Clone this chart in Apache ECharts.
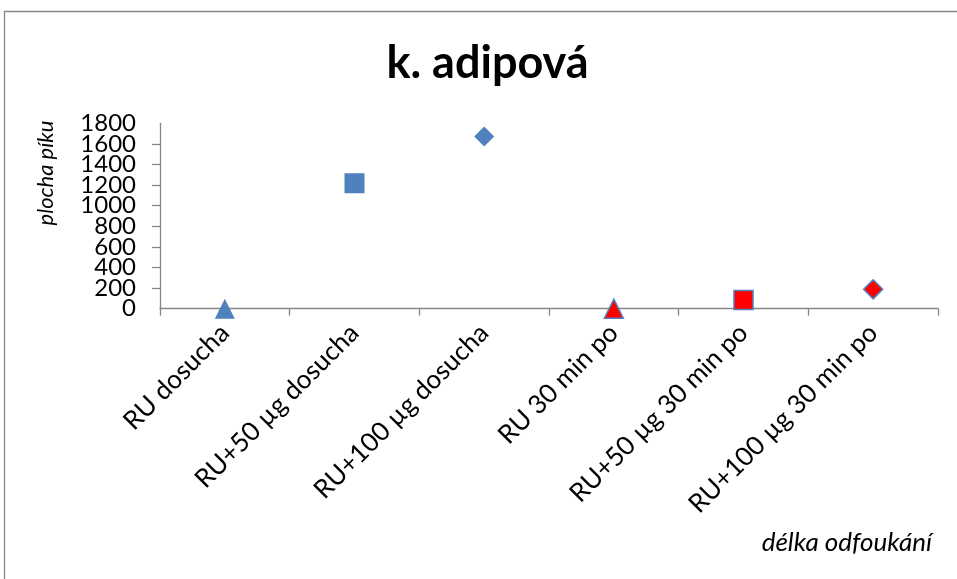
<!DOCTYPE html>
<html>
<head>
<meta charset="utf-8">
<script src="https://cdn.jsdelivr.net/npm/echarts@6/dist/echarts.min.js"></script>
<style>
  html, body { margin: 0; padding: 0; background: #ffffff; }
  #chart { width: 957px; height: 579px; }
</style>
</head>
<body>
<div id="chart"></div>
<script>
// Categories along the x axis
const categories = [
  'RU dosucha',
  'RU+50 µg dosucha',
  'RU+100 µg dosucha',
  'RU 30 min po',
  'RU+50 µg 30 min po',
  'RU+100 µg 30 min po'
];
// Peak areas measured right after drying and 30 minutes later
const dosuchaValues = [0, 1218, 1671, null, null, null];
const poValues = [null, null, null, 0, 85, 188];
// Marker shape for each category
const markerShapes = ['triangle', 'rect', 'diamond', 'triangle', 'rect', 'diamond'];
// Y axis range
const yMin = 0, yMax = 1800, yStep = 200;

const FONT = 'Lato, "Open Sans", sans-serif';
const BLUE = '#4F81BD';
const RED = '#FF0000';
const AXIS = '#868686';

function pointsOf(values, color, border) {
  return values.map((v, i) => v === null ? null : {
    value: [categories[i], v],
    symbol: markerShapes[i],
    itemStyle: border
      ? { color: color, opacity: 1, borderColor: BLUE, borderWidth: 1.5 }
      : { color: color, opacity: 1 }
  }).filter(p => p !== null);
}

const yLabelStyle = { color: '#000', fontFamily: FONT, fontSize: 24, margin: 24, hideOverlap: false };

const chart = echarts.init(document.getElementById('chart'), null, { renderer: 'canvas' });
chart.setOption({
  backgroundColor: '#ffffff',
  animation: false,
  grid: { left: 160, right: 19, top: 123.3, bottom: 270.3, containLabel: false },
  xAxis: {
    type: 'category',
    data: categories,
    boundaryGap: true,
    axisLine: { lineStyle: { color: AXIS, width: 1.3 } },
    axisTick: { show: true, length: 7, lineStyle: { color: AXIS, width: 1.3 } },
    axisLabel: { rotate: 45, margin: 20, color: '#000', fontFamily: FONT, fontSize: 26, interval: 0 },
    splitLine: { show: false }
  },
  yAxis: [
    {
      // main value axis: line, ticks and the inner labels
      type: 'value', position: 'left',
      min: yMin, max: yMax, interval: yStep,
      axisLine: { show: true, lineStyle: { color: AXIS, width: 1.3 } },
      axisTick: { show: true, length: 8, lineStyle: { color: AXIS, width: 1.3 } },
      axisLabel: Object.assign({ showMinLabel: false, showMaxLabel: false, formatter: v => String(v) }, yLabelStyle),
      splitLine: { show: false }
    },
    {
      // same scale, carries only the end labels (0 and 1800)
      type: 'value', position: 'left', offset: 0,
      min: yMin, max: yMax, interval: yStep,
      axisLine: { show: false }, axisTick: { show: false }, splitLine: { show: false },
      axisLabel: Object.assign({
        showMinLabel: true, showMaxLabel: true,
        formatter: v => (v === yMin || v === yMax) ? String(v) : ''
      }, yLabelStyle)
    }
  ],
  graphic: [
    { type: 'rect', shape: { x: 4.5, y: 11.5, width: 1100, height: 700 },
      style: { fill: 'none', stroke: AXIS, lineWidth: 1.3 }, silent: true, z: -1 },
    { type: 'text', x: 487.5, y: 63,
      style: { text: 'k. adipová', font: 'bold 45px ' + FONT, fill: '#000', align: 'center', verticalAlign: 'middle' } },
    { type: 'text', x: 46, y: 173, rotation: Math.PI / 2,
      style: { text: 'plocha píku', font: 'italic 22px ' + FONT, fill: '#000', align: 'center', verticalAlign: 'middle' } },
    { type: 'text', x: 932, y: 543,
      style: { text: 'délka odfoukání', font: 'italic 26px ' + FONT, fill: '#000', align: 'right', verticalAlign: 'middle' } }
  ],
  series: [
    { name: 'dosucha', type: 'scatter', yAxisIndex: 0, symbolSize: 20, data: pointsOf(dosuchaValues, BLUE, false) },
    { name: '30 min po', type: 'scatter', yAxisIndex: 0, symbolSize: 19, data: pointsOf(poValues, RED, true) }
  ]
});
</script>
</body>
</html>
